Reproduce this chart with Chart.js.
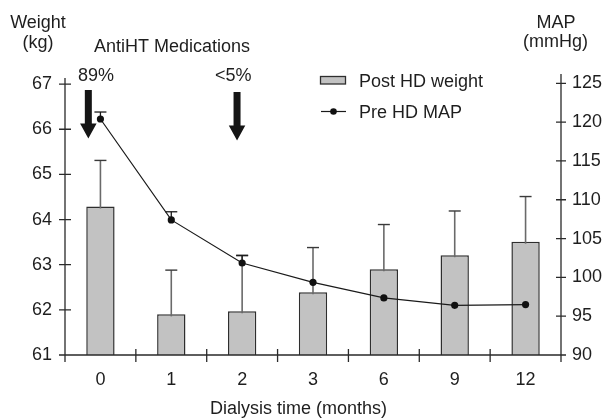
<!DOCTYPE html>
<html><head><meta charset="utf-8">
<script src="https://cdn.jsdelivr.net/npm/chart.js@4.4.0/dist/chart.umd.min.js"></script>
<style>html,body{margin:0;padding:0;background:#fff;}canvas{display:block;}</style>
</head><body>
<canvas id="c" width="607" height="418"></canvas>
<script>
const categories = ['0','1','2','3','6','9','12'];
const postHDWeight = [64.29, 61.90, 61.97, 62.39, 62.90, 63.21, 63.51];
const postHDWeightSD = [1.02, 0.98, 1.23, 0.99, 0.99, 0.98, 1.00];
const preHDMAP = [120.4, 107.4, 101.85, 99.36, 97.35, 96.4, 96.5];
const preHDMAPSD = [0.9, 1.05, 1.0, null, null, null, null];
const weightTicks = [61, 62, 63, 64, 65, 66, 67];
const mapTicks = [90, 95, 100, 105, 110, 115, 120, 125];
const medicationLabels = ['89%', '<5%'];
const medicationAt = [0, 2];

const FONT = '"Liberation Sans", Arial, Helvetica, sans-serif';
const INK = '#1e1e1e';
const AXIS = '#2a2a2a';

function drawArrow(ctx, cx, top, tip, shaftW, headW, headH) {
  ctx.beginPath();
  ctx.moveTo(cx - shaftW / 2, top);
  ctx.lineTo(cx + shaftW / 2, top);
  ctx.lineTo(cx + shaftW / 2, tip - headH);
  ctx.lineTo(cx + headW / 2, tip - headH);
  ctx.lineTo(cx, tip);
  ctx.lineTo(cx - headW / 2, tip - headH);
  ctx.lineTo(cx - shaftW / 2, tip - headH);
  ctx.closePath();
  ctx.fill();
}

const decor = {
  id: 'decor',
  afterDatasetDraw(chart, args) {
    const ctx = chart.ctx;
    if (args.index === 0) {
      const meta = chart.getDatasetMeta(0);
      const y = chart.scales.yW;
      ctx.save();
      meta.data.forEach((bar, i) => {
        const sd = postHDWeightSD[i];
        if (sd == null) return;
        const y0 = y.getPixelForValue(postHDWeight[i]);
        const y1 = y.getPixelForValue(postHDWeight[i] + sd);
        ctx.strokeStyle = '#6a6a6a'; ctx.lineWidth = 1.6;
        ctx.beginPath(); ctx.moveTo(bar.x, y0 + 2); ctx.lineTo(bar.x, y1); ctx.stroke();
        ctx.strokeStyle = '#3a3a3a'; ctx.lineWidth = 1.4;
        ctx.beginPath(); ctx.moveTo(bar.x - 6, y1); ctx.lineTo(bar.x + 6, y1); ctx.stroke();
      });
      ctx.restore();
    }
  },
  beforeDatasetDraw(chart, args) {
    const ctx = chart.ctx;
    if (args.index === 1) {
      const meta = chart.getDatasetMeta(1);
      const y = chart.scales.yM;
      ctx.save();
      meta.data.forEach((pt, i) => {
        const sd = preHDMAPSD[i];
        if (sd == null) return;
        const y0 = y.getPixelForValue(preHDMAP[i]);
        const y1 = y.getPixelForValue(preHDMAP[i] + sd);
        ctx.strokeStyle = '#1a1a1a'; ctx.lineWidth = 1.3;
        ctx.beginPath(); ctx.moveTo(pt.x, y0); ctx.lineTo(pt.x, y1); ctx.stroke();
        ctx.beginPath(); ctx.moveTo(pt.x - 6, y1); ctx.lineTo(pt.x + 6, y1); ctx.stroke();
      });
      ctx.restore();
    }
  },
  afterDraw(chart) {
    const ctx = chart.ctx;
    const a = chart.chartArea;
    const xs = chart.scales.x, yW = chart.scales.yW, yM = chart.scales.yM;
    ctx.save();
    // axes
    ctx.strokeStyle = AXIS; ctx.lineWidth = 1.3;
    ctx.beginPath();
    ctx.moveTo(a.left, a.top + 2); ctx.lineTo(a.left, a.bottom + 7);
    ctx.moveTo(a.right, a.top - 2); ctx.lineTo(a.right, a.bottom + 7);
    ctx.moveTo(a.left, a.bottom); ctx.lineTo(a.right, a.bottom);
    weightTicks.forEach(v => { const p = yW.getPixelForValue(v); ctx.moveTo(a.left - 6, p); ctx.lineTo(a.left + 6, p); });
    mapTicks.forEach(v => { const p = yM.getPixelForValue(v); ctx.moveTo(a.right - 5, p); ctx.lineTo(a.right + 5, p); });
    for (let i = 1; i < categories.length; i++) {
      const p = (xs.getPixelForValue(i - 1) + xs.getPixelForValue(i)) / 2;
      ctx.moveTo(p, a.bottom - 6); ctx.lineTo(p, a.bottom + 7);
    }
    ctx.stroke();

    // texts
    ctx.fillStyle = INK;
    ctx.font = '18px ' + FONT;
    ctx.textBaseline = 'alphabetic';
    ctx.textAlign = 'center';
    ctx.fillText('Weight', 38, 28);
    ctx.fillText('(kg)', 38, 48);
    ctx.fillText('MAP', 556, 27.5);
    ctx.fillText('(mmHg)', 555.5, 47);
    ctx.fillText('Dialysis time (months)', 298.5, 414);
    ctx.textAlign = 'left';
    ctx.fillText('AntiHT Medications', 94, 52);

    // medication arrows
    const labelOff = [-4.4, -8.8];
    const arrowOff = [-12.1, -5.1];
    const arrowTop = [90, 92];
    ctx.textAlign = 'center';
    medicationAt.forEach((c, k) => {
      const cx = xs.getPixelForValue(c);
      ctx.fillStyle = INK;
      ctx.fillText(medicationLabels[k], cx + labelOff[k], 81);
      ctx.fillStyle = '#151515';
      drawArrow(ctx, cx + arrowOff[k], arrowTop[k], arrowTop[k] + 48.5, 7, 16.5, 15);
    });

    // legend
    ctx.fillStyle = '#c2c2c2';
    ctx.fillRect(320.5, 76.5, 25, 7.5);
    ctx.strokeStyle = '#2e2e2e'; ctx.lineWidth = 1.3;
    ctx.strokeRect(320.5, 76.5, 25, 7.5);
    ctx.strokeStyle = '#1a1a1a'; ctx.lineWidth = 1.2;
    ctx.beginPath(); ctx.moveTo(321, 111.5); ctx.lineTo(346, 111.5); ctx.stroke();
    ctx.fillStyle = '#111';
    ctx.beginPath(); ctx.arc(333.5, 111.5, 3.3, 0, Math.PI * 2); ctx.fill();
    ctx.fillStyle = INK;
    ctx.textAlign = 'left';
    ctx.fillText('Post HD weight', 359, 86.7);
    ctx.fillText('Pre HD MAP', 359, 118.3);
    ctx.restore();
  }
};

new Chart(document.getElementById('c'), {
  type: 'bar',
  data: {
    labels: categories,
    datasets: [
      { type: 'bar', label: 'Post HD weight', data: postHDWeight, yAxisID: 'yW',
        backgroundColor: '#c2c2c2', borderColor: '#2e2e2e', borderWidth: 1.5,
        categoryPercentage: 0.4, barPercentage: 1, order: 2 },
      { type: 'line', label: 'Pre HD MAP', data: preHDMAP, yAxisID: 'yM',
        borderColor: '#1a1a1a', borderWidth: 1.2, pointRadius: 3.6,
        pointBackgroundColor: '#111', pointBorderColor: '#111', pointBorderWidth: 0,
        tension: 0, order: 1 }
    ]
  },
  options: {
    responsive: false, animation: false, devicePixelRatio: 1,
    layout: { padding: { top: 76, left: 0, right: 0, bottom: 0 } },
    plugins: { legend: { display: false }, tooltip: { enabled: false } },
    scales: {
      x: {
        grid: { display: false, drawTicks: false }, border: { display: false },
        ticks: { color: INK, font: { family: FONT, size: 18 }, padding: 14, maxRotation: 0, autoSkip: false },
        afterFit(s) { s.height = 63; }
      },
      yW: {
        position: 'left', min: 61, max: 67.18,
        grid: { display: false, drawTicks: false }, border: { display: false },
        ticks: { color: INK, font: { family: FONT, size: 18 }, padding: 13 },
        afterBuildTicks(s) { s.ticks = weightTicks.map(v => ({ value: v })); },
        afterFit(s) { s.width = 65; }
      },
      yM: {
        position: 'right', min: 90, max: 125.94,
        grid: { display: false, drawTicks: false }, border: { display: false },
        ticks: { color: INK, font: { family: FONT, size: 18 }, padding: 11 },
        afterBuildTicks(s) { s.ticks = mapTicks.map(v => ({ value: v })); },
        afterFit(s) { s.width = 46; }
      }
    }
  },
  plugins: [decor]
});
</script>
</body></html>
